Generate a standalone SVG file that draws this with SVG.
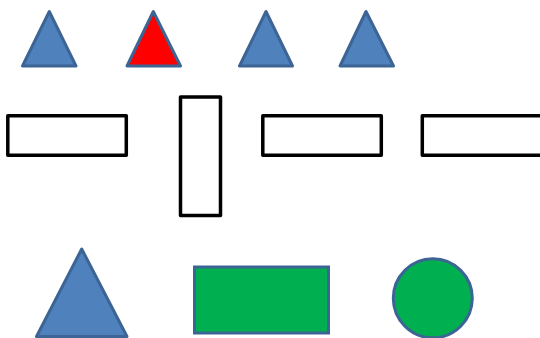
<svg xmlns="http://www.w3.org/2000/svg" width="540" height="338" viewBox="0 0 540 338">
<style>
.tri{fill:#4f81bd;stroke:#3c6494;stroke-width:3;stroke-linejoin:round}
.red{fill:#ff0000}
.box{fill:#ffffff;stroke:#000000;stroke-width:3.5;stroke-linejoin:round}
.green{fill:#00b050;stroke:#3c6494;stroke-width:3}
</style>
<rect width="540" height="338" fill="#ffffff"/>
<g id="triangle1"><polygon class="tri" points="49.3,11.5 22.5,66 76,66"/></g>
<g id="triangle2"><polygon class="tri red" points="153.3,11.5 127,66 180.5,66"/></g>
<g id="triangle3"><polygon class="tri" points="266,11.5 239.5,66 292.5,66"/></g>
<g id="triangle4"><polygon class="tri" points="366,11.5 340,66 393.5,66"/></g>
<g id="rect1"><rect class="box" x="7.8" y="115.8" width="118.5" height="39.5"/></g>
<g id="rect2"><rect class="box" x="180.5" y="97" width="40" height="118.5"/></g>
<g id="rect3"><rect class="box" x="262.8" y="115.8" width="118.5" height="39.5"/></g>
<g id="rect4"><rect class="box" x="422.3" y="115.8" width="130" height="39.5"/></g>
<g id="bigTriangle"><polygon class="tri" points="81.7,249 36.5,336.5 127,336.5"/></g>
<g id="greenRect"><rect class="green" x="194.5" y="267" width="134" height="66"/></g>
<g id="greenCircle"><circle class="green" cx="432.8" cy="298.3" r="39.5"/></g>
<g id="connectors"></g>
</svg>
